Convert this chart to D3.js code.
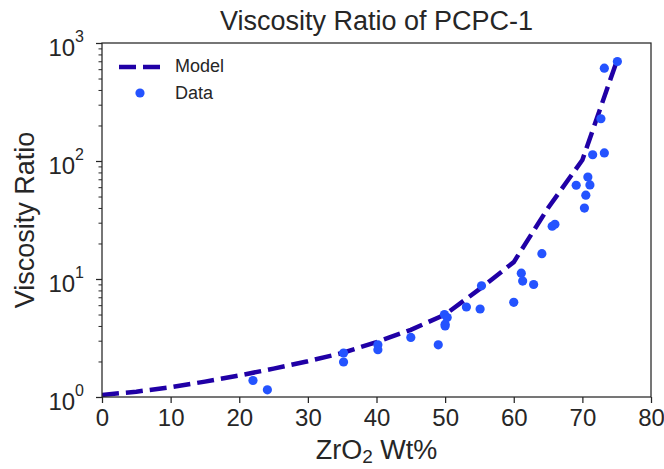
<!DOCTYPE html>
<html><head><meta charset="utf-8">
<script src="https://cdn.jsdelivr.net/npm/d3@7"></script>
<style>
body{margin:0;background:#fff;}
text{font-family:"Liberation Sans",Arial,sans-serif;fill:#262626;}
</style></head>
<body><svg id="c" width="664" height="469"></svg>
<script>
// Model curve
const modelX = [0, 5, 10, 15, 20, 25, 30, 35, 40, 45, 50, 55, 60, 65, 70, 75];
const modelY = [1.04, 1.11, 1.21, 1.35, 1.52, 1.74, 2.01, 2.36, 2.92, 3.71, 5.0, 8.2, 13.9, 40, 102, 700];
// Measured data
const dataX = [22.0, 24.1, 35.2, 35.2, 40.2, 40.2, 45.0, 49.0, 49.9, 50.3, 50.0, 50.0, 53.1, 55.1, 55.3, 60.0, 61.1, 61.3, 62.9, 64.1, 65.6, 66.0, 69.1, 70.8, 71.1, 70.5, 70.3, 71.5, 73.2, 72.7, 73.2, 75.1];
const dataY = [1.38, 1.15, 2.36, 1.98, 2.77, 2.52, 3.2, 2.77, 5.0, 4.71, 4.14, 4.0, 5.79, 5.57, 8.75, 6.34, 11.2, 9.6, 8.98, 16.4, 28.0, 29.1, 62.3, 73.2, 62.7, 51.3, 39.9, 113, 117, 228, 612, 697];
const xTicks = [0, 10, 20, 30, 40, 50, 60, 70, 80];
const yTicks = [1, 10, 100, 1000];
const yExp = ["0", "1", "2", "3"];

const svg = d3.select("#c");
const L = 102, R = 651, T = 43, B = 397;
const x = d3.scaleLinear().domain([0, 80]).range([L, R]);
const y = d3.scaleLog().domain([1, 1000]).range([B, T]);
const ink = "#262626";

const defs = svg.append("defs");
defs.append("clipPath").attr("id", "clip").append("rect")
  .attr("x", L).attr("y", T).attr("width", R - L).attr("height", B - T);

// Model line
const line = d3.line().x((d, i) => x(modelX[i])).y((d, i) => y(modelY[i]));
svg.append("path").datum(modelY).attr("d", line)
  .attr("clip-path", "url(#clip)")
  .attr("fill", "none").attr("stroke", "#2000a6").attr("stroke-width", 4.5)
  .attr("stroke-dasharray", "17,7");

// Data points
svg.append("g").selectAll("circle").data(dataY).join("circle")
  .attr("cx", (d, i) => x(dataX[i])).attr("cy", d => y(d)).attr("r", 4.6)
  .attr("fill", "#2453ff");

// Frame
svg.append("rect").attr("x", L).attr("y", T).attr("width", R - L).attr("height", B - T)
  .attr("fill", "none").attr("stroke", ink).attr("stroke-width", 1.25);

// X axis
const xa = svg.append("g").attr("transform", `translate(0,${B})`)
  .call(d3.axisBottom(x).tickValues(xTicks).tickSize(6).tickPadding(6).tickFormat(d3.format("d")));
xa.select(".domain").remove();
xa.selectAll("line").attr("stroke", ink).attr("stroke-width", 1.25);
xa.selectAll("text").attr("font-size", 24).attr("fill", ink).attr("font-family", "Liberation Sans, Arial, sans-serif");

// Y axis major + minor ticks
const minor = [];
for (let e = 0; e < 3; e++) for (let m = 2; m <= 9; m++) minor.push(m * Math.pow(10, e));
const ya = svg.append("g").attr("transform", `translate(${L},0)`)
  .call(d3.axisLeft(y).tickValues(minor).tickSize(3.5).tickFormat(""));
ya.select(".domain").remove();
ya.selectAll("line").attr("stroke", ink).attr("stroke-width", 1);
const yb = svg.append("g").attr("transform", `translate(${L},0)`)
  .call(d3.axisLeft(y).tickValues(yTicks).tickSize(6).tickFormat(""));
yb.select(".domain").remove();
yb.selectAll("line").attr("stroke", ink).attr("stroke-width", 1.25);

const yl = svg.append("g");
yTicks.forEach((v, i) => {
  const t = yl.append("text").attr("x", L - 18).attr("y", y(v) + 13)
    .attr("text-anchor", "end").attr("font-size", 24);
  t.append("tspan").text("10");
  t.append("tspan").attr("dy", -14).attr("font-size", 16).text(yExp[i]);
});

// Title and labels
svg.append("text").attr("x", (L + R) / 2).attr("y", 30).attr("text-anchor", "middle")
  .attr("font-size", 27).text("Viscosity Ratio of PCPC-1");
const xl = svg.append("text").attr("x", (L + R) / 2).attr("y", 459).attr("text-anchor", "middle")
  .attr("font-size", 27);
xl.append("tspan").text("ZrO");
xl.append("tspan").attr("font-size", 19).attr("dy", 4).text("2");
xl.append("tspan").attr("dy", -4).text(" Wt%");
svg.append("text").attr("transform", `translate(34,${(T + B) / 2}) rotate(-90)`)
  .attr("text-anchor", "middle").attr("font-size", 27).text("Viscosity Ratio");

// Legend
const lg = svg.append("g");
lg.append("line").attr("x1", 119).attr("x2", 160).attr("y1", 67).attr("y2", 67)
  .attr("stroke", "#2000a6").attr("stroke-width", 4.5).attr("stroke-dasharray", "17,7");
lg.append("text").attr("x", 175).attr("y", 72).attr("font-size", 18).text("Model");
lg.append("circle").attr("cx", 140).attr("cy", 93).attr("r", 4.6).attr("fill", "#2453ff");
lg.append("text").attr("x", 175).attr("y", 99).attr("font-size", 18).text("Data");
</script></body></html>
